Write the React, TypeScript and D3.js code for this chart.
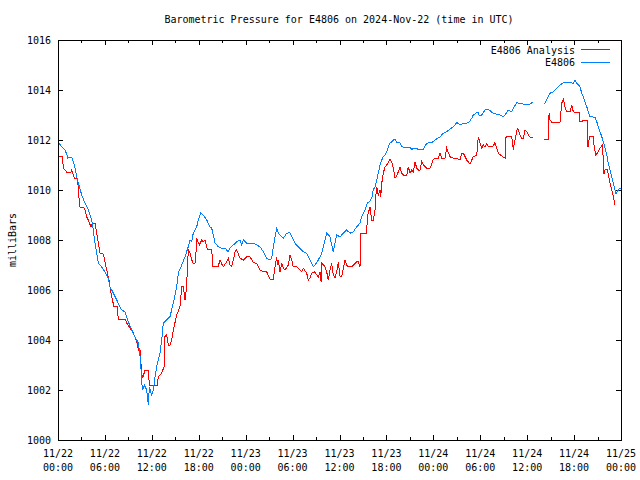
import React from "react";
import * as d3 from "d3";

const TITLE = "Barometric Pressure for E4806 on 2024-Nov-22 (time in UTC)";
const Y_LABEL = "milliBars";
const SERIES_NAMES = ["E4806 Analysis", "E4806"];
const SERIES_COLORS = ["#ff0000", "#0080ff"];
const Y_TICKS = [1000, 1002, 1004, 1006, 1008, 1010, 1012, 1014, 1016];
const X_TICK_HOURS = [0, 6, 12, 18, 24, 30, 36, 42, 48, 54, 60, 66, 72];
const X_TICK_DATES = ["11/22", "11/22", "11/22", "11/22", "11/23", "11/23", "11/23", "11/23", "11/24", "11/24", "11/24", "11/24", "11/25"];
const X_TICK_TIMES = ["00:00", "06:00", "12:00", "18:00", "00:00", "06:00", "12:00", "18:00", "00:00", "06:00", "12:00", "18:00", "00:00"];

// [hours since 11/22 00:00 UTC, pressure mb]; null = data gap
const analysisReadings: [number, number | null][] = [
  [0,1011.36],[0.55,1011.36],[0.68,1010.88],[1.11,1010.72],[1.66,1010.72],[1.75,1010.8],[1.96,1010.6],[2.08,1010.48],[2.52,1010.48],[2.6,1009.92],[2.81,1009.32],[3.24,1009.32],[3.45,1009.2],[3.67,1008.92],[3.88,1008.8],[4.22,1008.52],[4.39,1008.68],[4.73,1008.68],[4.95,1008.28],[5.15,1007.88],[5.37,1007.48],[5.79,1007.44],[6.01,1007.12],[6.23,1006.8],[6.52,1006.4],[6.65,1006.13],[6.87,1005.73],[7.16,1005.33],[7.58,1005.33],[7.71,1004.84],[8.57,1004.84],[8.79,1004.68],[9.21,1004.48],[9.63,1004.28],[10.07,1003.93],[10.27,1003.6],[10.49,1003.6],[10.7,1002.68],[10.83,1002.48],[11.13,1002.8],[11.55,1002.8],[11.68,1002.2],[12.7,1002.2],[12.83,1002.53],[13.26,1002.68],[13.56,1002.93],[13.68,1004.13],[13.9,1004.2],[14.11,1003.8],[14.32,1003.8],[14.54,1004.0],[14.75,1004.4],[15.18,1005.0],[15.6,1005.33],[15.82,1006.13],[16.03,1006.13],[16.24,1005.6],[16.37,1005.92],[16.53,1006.68],[16.66,1007.6],[16.88,1007.47],[17.1,1007.2],[17.3,1007.07],[17.52,1007.08],[17.65,1007.53],[17.74,1008.07],[18.07,1007.8],[18.38,1008.0],[18.58,1007.93],[18.8,1008.0],[19.09,1007.63],[19.66,1007.63],[19.79,1006.96],[20.5,1006.96],[20.72,1007.2],[20.94,1007.04],[21.14,1006.93],[21.58,1007.13],[21.78,1007.27],[22.0,1007.0],[22.21,1006.93],[22.42,1007.2],[22.64,1007.53],[22.85,1007.6],[23.28,1007.27],[23.7,1007.2],[24.13,1007.33],[24.56,1007.33],[24.98,1007.09],[25.41,1007.07],[25.83,1006.8],[26.26,1006.73],[26.69,1006.73],[27.11,1006.43],[27.54,1006.43],[27.75,1006.93],[27.97,1007.33],[28.07,1007.0],[28.18,1007.2],[28.39,1006.72],[28.61,1007.08],[28.81,1006.88],[29.03,1006.8],[29.45,1007.0],[29.67,1007.4],[29.89,1007.2],[30.09,1006.93],[30.53,1006.93],[30.95,1006.8],[31.17,1006.73],[31.37,1006.87],[31.81,1006.67],[32.01,1006.4],[32.23,1006.48],[32.45,1006.67],[32.87,1006.73],[33.09,1006.6],[33.29,1006.53],[33.51,1006.73],[33.64,1006.33],[33.73,1007.07],[33.93,1007.0],[34.15,1006.93],[34.36,1006.73],[34.57,1006.4],[34.79,1006.8],[35.0,1007.07],[35.21,1006.6],[35.43,1006.47],[35.64,1006.73],[35.85,1007.13],[36.07,1006.53],[36.28,1006.53],[36.71,1007.2],[36.92,1007.0],[37.13,1006.93],[37.56,1006.93],[37.77,1007.0],[38.2,1007.13],[38.41,1007.13],[38.62,1006.93],[38.71,1008.27],[39.48,1008.27],[39.56,1008.93],[39.69,1009.08],[39.9,1009.33],[40.12,1008.8],[40.32,1008.8],[40.54,1009.2],[40.6,1009.6],[40.76,1010.13],[40.96,1009.8],[41.18,1010.0],[41.27,1009.73],[41.4,1010.27],[41.6,1010.67],[41.82,1010.93],[42.04,1011.0],[42.46,1011.23],[42.68,1011.13],[42.88,1010.87],[43.1,1010.47],[43.32,1010.56],[43.52,1010.73],[43.74,1010.91],[43.96,1010.67],[44.16,1010.6],[44.6,1010.6],[44.8,1010.93],[45.02,1010.67],[45.24,1010.8],[45.44,1010.73],[45.66,1011.13],[45.88,1010.87],[46.08,1010.8],[46.3,1010.8],[46.51,1011.13],[46.72,1011.0],[47.15,1010.87],[47.58,1010.87],[48.0,1011.23],[48.43,1011.27],[48.63,1011.27],[48.86,1011.47],[49.07,1011.27],[49.49,1011.27],[49.71,1011.67],[50.13,1011.33],[50.56,1011.27],[50.99,1011.27],[51.41,1011.2],[51.63,1011.47],[51.84,1011.47],[52.27,1011.2],[52.69,1011.04],[53.11,1011.33],[53.55,1011.4],[53.75,1012.13],[53.97,1011.87],[54.19,1011.67],[54.39,1011.8],[54.61,1011.73],[54.83,1011.87],[55.03,1011.73],[55.67,1011.76],[55.88,1011.89],[56.11,1011.67],[56.31,1011.47],[56.75,1011.36],[57.17,1011.27],[57.3,1012.13],[58.02,1012.13],[58.23,1011.6],[58.36,1011.87],[58.58,1012.2],[58.74,1012.47],[58.87,1012.4],[59.09,1012.2],[59.3,1012.07],[59.51,1012.07],[59.73,1012.4],[59.94,1012.33],[60.15,1012.2],[60.37,1012.11],[60.71,1012.11],[61.4,null],[62.16,1012.03],[62.71,1012.03],[62.8,1013.07],[62.92,1012.8],[63.14,1012.71],[64.2,1012.71],[64.42,1013.47],[64.62,1013.63],[64.84,1013.33],[65.06,1013.13],[65.48,1013.13],[65.7,1013.4],[65.9,1013.13],[66.12,1013.11],[66.67,1013.11],[66.76,1012.73],[67.02,1012.73],[67.1,1012.8],[67.69,1012.8],[67.74,1011.73],[67.84,1011.73],[67.95,1012.16],[68.46,1012.16],[68.55,1011.8],[68.77,1011.4],[69.1,1011.53],[69.32,1011.67],[69.61,1011.8],[69.74,1011.2],[69.83,1010.64],[69.96,1010.8],[70.25,1010.83],[70.38,1010.6],[70.6,1010.27],[70.81,1010.0],[71.02,1009.73],[71.24,1009.4]
];

const sensorReadings: [number, number | null][] = [
  [0,1011.93],[0.47,1011.73],[0.9,1011.6],[1.15,1011.4],[1.24,1011.24],[1.28,1011.32],[1.75,1011.32],[1.96,1011.13],[2.17,1010.88],[2.39,1010.53],[2.6,1010.28],[3.03,1009.8],[3.45,1009.48],[3.88,1009.2],[4.31,1008.8],[4.51,1008.4],[4.73,1007.88],[4.95,1007.48],[5.15,1007.08],[5.59,1006.92],[6.01,1006.72],[6.43,1006.48],[6.65,1006.13],[7.07,1005.88],[7.51,1005.6],[7.93,1005.33],[8.15,1005.2],[8.57,1005.13],[8.99,1004.73],[9.43,1004.4],[9.85,1004.13],[10.27,1003.88],[10.4,1003.6],[10.58,1003.08],[10.7,1002.28],[10.83,1002.0],[11.04,1002.2],[11.34,1002.0],[11.55,1001.4],[11.68,1002.13],[11.98,1001.8],[12.19,1002.0],[12.41,1002.53],[12.62,1002.93],[13.05,1003.48],[13.26,1004.0],[13.47,1004.68],[13.9,1004.8],[14.32,1004.93],[14.75,1005.48],[15.18,1006.13],[15.39,1006.68],[15.82,1007.0],[16.24,1007.33],[16.66,1007.73],[16.88,1008.0],[17.1,1007.93],[17.3,1008.28],[17.74,1008.53],[17.94,1008.8],[18.25,1009.09],[18.58,1009.0],[19.02,1008.8],[19.44,1008.53],[19.66,1008.47],[19.86,1008.2],[20.08,1007.88],[20.5,1007.73],[20.94,1007.67],[21.36,1007.67],[21.78,1007.53],[22.0,1007.67],[22.42,1007.8],[22.85,1007.93],[23.28,1008.0],[23.49,1007.8],[23.7,1008.0],[24.13,1007.88],[24.56,1007.88],[24.98,1007.88],[25.41,1007.8],[25.83,1007.73],[26.26,1007.53],[26.69,1007.27],[27.11,1007.2],[27.33,1007.27],[27.54,1007.73],[27.75,1008.13],[27.97,1008.47],[28.18,1008.27],[28.39,1008.2],[28.82,1008.07],[29.25,1008.27],[29.67,1008.29],[29.89,1008.13],[30.31,1007.87],[30.73,1007.73],[31.37,1007.53],[31.81,1007.47],[32.23,1007.2],[32.65,1006.93],[32.87,1007.0],[33.29,1007.2],[33.73,1007.47],[34.15,1008.0],[34.36,1008.27],[34.79,1008.13],[35.0,1007.8],[35.21,1007.53],[35.43,1007.87],[35.64,1008.2],[36.07,1008.13],[36.49,1008.27],[36.92,1008.4],[37.34,1008.27],[37.77,1008.33],[38.2,1008.53],[38.62,1008.67],[38.84,1008.93],[39.26,1009.2],[39.56,1009.47],[39.81,1009.53],[40.12,1009.67],[40.32,1010.0],[40.54,1010.13],[40.76,1010.4],[40.96,1010.67],[41.18,1011.0],[41.4,1011.2],[41.6,1011.33],[41.82,1011.4],[42.04,1011.53],[42.24,1011.73],[42.46,1011.87],[42.68,1011.93],[42.88,1012.0],[43.1,1012.03],[43.32,1011.91],[43.74,1011.89],[43.96,1011.73],[44.38,1011.71],[45.02,1011.71],[45.24,1011.63],[45.66,1011.67],[46.08,1011.63],[46.72,1011.63],[46.94,1011.76],[47.15,1011.87],[47.58,1011.89],[48.0,1011.93],[48.22,1012.0],[48.86,1012.13],[49.28,1012.27],[49.71,1012.33],[50.13,1012.43],[50.56,1012.53],[50.99,1012.69],[51.2,1012.67],[51.41,1012.6],[51.84,1012.67],[52.27,1012.67],[52.6,1012.73],[52.91,1012.87],[53.11,1013.0],[53.55,1013.09],[53.75,1013.09],[53.88,1012.96],[54.19,1013.0],[54.61,1013.2],[55.03,1013.23],[55.25,1013.17],[55.67,1013.07],[56.11,1013.03],[56.53,1013.0],[56.95,1012.93],[57.17,1013.0],[57.59,1013.2],[58.02,1013.13],[58.23,1013.27],[58.66,1013.49],[59.09,1013.47],[59.51,1013.44],[60.37,1013.44],[60.71,1013.51],[61.4,null],[62.19,1013.44],[62.5,1013.6],[62.92,1013.87],[63.35,1013.93],[63.78,1014.07],[64.2,1014.2],[64.62,1014.29],[65.48,1014.29],[65.9,1014.27],[66.12,1014.4],[66.34,1014.27],[66.76,1014.13],[66.98,1013.87],[67.18,1013.73],[67.4,1013.53],[67.62,1013.33],[67.82,1013.13],[68.04,1012.93],[68.68,1012.91],[68.9,1012.73],[69.1,1012.53],[69.32,1012.33],[69.54,1012.13],[69.74,1011.93],[69.96,1011.67],[70.18,1011.4],[70.38,1011.07],[70.6,1010.8],[70.81,1010.53],[71.02,1010.27],[71.24,1010.0],[71.37,1009.84],[71.53,1009.93],[71.79,1010.07],[72.0,1010.07]
];

const FONT = "'DejaVu Sans Mono', 'Liberation Mono', monospace";

export default function App() {
  const W = 640, H = 480;
  const left = 58, right = 621, top = 40, bottom = 440;
  const x = d3.scaleLinear().domain([0, 72]).range([left, right]);
  const y = d3.scaleLinear().domain([1000, 1016]).range([bottom, top]);

  const line = d3.line<[number, number | null]>()
    .defined((d) => d[1] !== null)
    .x((d) => x(d[0]))
    .y((d) => y(d[1] as number));

  const minorHours = d3.range(3, 72, 6);
  const fs = 10;

  return (
    <svg width={W} height={H} style={{ position: "absolute", left: 0, top: 0, background: "#fff" }}
      fontFamily={FONT} fontSize={fs}>
      <rect x={0} y={0} width={W} height={H} fill="#fff" />
      <text x={339} y={23} textAnchor="middle" fill="#000">{TITLE}</text>
      <text transform={`translate(16,240) rotate(-90)`} textAnchor="middle" fill="#000">{Y_LABEL}</text>

      <g shapeRendering="crispEdges" stroke="#000" strokeWidth={1}>
        {Y_TICKS.map((t) => (
          <g key={t}>
            <line x1={left} x2={left + 5} y1={Math.round(y(t)) + 0.5} y2={Math.round(y(t)) + 0.5} />
            <line x1={right - 5} x2={right} y1={Math.round(y(t)) + 0.5} y2={Math.round(y(t)) + 0.5} />
          </g>
        ))}
        {X_TICK_HOURS.map((h) => (
          <g key={h}>
            <line x1={Math.round(x(h)) + 0.5} x2={Math.round(x(h)) + 0.5} y1={bottom} y2={bottom - 5} />
            <line x1={Math.round(x(h)) + 0.5} x2={Math.round(x(h)) + 0.5} y1={top} y2={top + 5} />
          </g>
        ))}
        {minorHours.map((h) => (
          <g key={h}>
            <line x1={Math.round(x(h)) + 0.5} x2={Math.round(x(h)) + 0.5} y1={bottom} y2={bottom - 3} />
            <line x1={Math.round(x(h)) + 0.5} x2={Math.round(x(h)) + 0.5} y1={top} y2={top + 3} />
          </g>
        ))}
      </g>

      {Y_TICKS.map((t) => (
        <text key={t} x={51} y={y(t) + 4} textAnchor="end" fill="#000">{t}</text>
      ))}
      {X_TICK_HOURS.map((h, i) => (
        <g key={h}>
          <text x={x(h)} y={457} textAnchor="middle" fill="#000">{X_TICK_DATES[i]}</text>
          <text x={x(h)} y={471} textAnchor="middle" fill="#000">{X_TICK_TIMES[i]}</text>
        </g>
      ))}

      <path d={line(analysisReadings) || ""} fill="none" stroke={SERIES_COLORS[0]} strokeWidth={1} shapeRendering="crispEdges" />
      <path d={line(sensorReadings) || ""} fill="none" stroke={SERIES_COLORS[1]} strokeWidth={1} shapeRendering="crispEdges" />

      {SERIES_NAMES.map((n, i) => (
        <g key={n}>
          <text x={575} y={54 + i * 12} textAnchor="end" fill="#000">{n}</text>
          <line x1={581} x2={610} y1={49.5 + i * 12.5} y2={49.5 + i * 12.5} stroke={SERIES_COLORS[i]} strokeWidth={1} shapeRendering="crispEdges" />
        </g>
      ))}

      <rect x={left + 0.5} y={top + 0.5} width={right - left} height={bottom - top} fill="none" stroke="#000" strokeWidth={1} shapeRendering="crispEdges" />
    </svg>
  );
}
